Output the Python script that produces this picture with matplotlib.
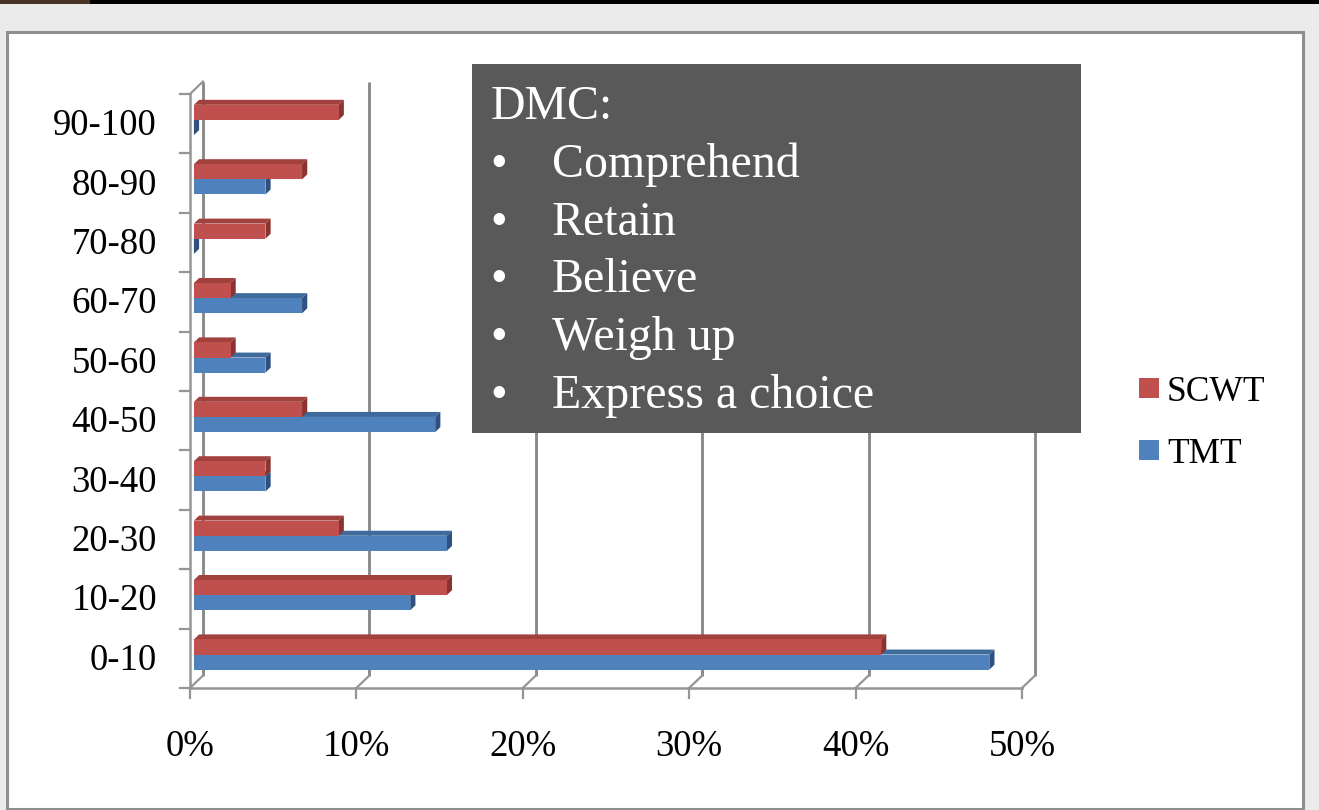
import matplotlib
matplotlib.use("Agg")
import matplotlib.pyplot as plt
from matplotlib.patches import Rectangle, Polygon
from matplotlib.transforms import offset_copy

# ---- data -------------------------------------------------------------
categories = ["0-10", "10-20", "20-30", "30-40", "40-50",
              "50-60", "60-70", "70-80", "80-90", "90-100"]
scwt = [41.3, 15.2, 8.7, 4.3, 6.5, 2.2, 2.2, 4.3, 6.5, 8.7]
tmt = [47.8, 13.0, 15.2, 4.3, 14.5, 4.3, 6.5, 0.0, 4.3, 0.0]
series_names = ["SCWT", "TMT"]
x_ticks = [0, 10, 20, 30, 40, 50]
x_tick_labels = ["0%", "10%", "20%", "30%", "40%", "50%"]
box_title = "DMC:"
box_items = ["Comprehend", "Retain", "Believe", "Weigh up", "Express a choice"]

# ---- style ------------------------------------------------------------
W, H = 1319, 810
SERIF = "Liberation Serif"
RED = {"front": "#C0504D", "top": "#A1403D", "side": "#8A3330"}
BLUE = {"front": "#4F81BD", "top": "#3F6A9C", "side": "#2E5180"}
GRID = "#8a8a8a"
AXIS = "#959595"


def fx(px):
    return px / W


def fy(py):
    return 1 - py / H


fig = plt.figure(figsize=(W / 100, H / 100), dpi=100)
fig.patch.set_facecolor("#ebebeb")

# window strip and white panel
fig.add_artist(Rectangle((0, fy(4)), 1, 4 / H, transform=fig.transFigure,
                         facecolor="#000000", edgecolor="none", zorder=-2))
fig.add_artist(Rectangle((0, fy(4)), 90 / W, 4 / H, transform=fig.transFigure,
                         facecolor="#4a3226", edgecolor="none", zorder=-2))
fig.add_artist(Rectangle((fx(7), fy(809)), (1303 - 7) / W, (809 - 32) / H,
                         transform=fig.transFigure, facecolor="white",
                         edgecolor="#8f8f8f", linewidth=2.2, zorder=-1))

# front plane of the 3-D plot area
x0p, x1p, y0p, y1p = 190, 1022, 94, 688
ax = fig.add_axes([fx(x0p), fy(y1p), (x1p - x0p) / W, (y1p - y0p) / H])
ax.set_zorder(2)
ax.set_xlim(0, 50)
ax.set_ylim(-0.5, 9.5)
ax.axis("off")

px_x = (x1p - x0p) / 50.0
px_y = (y1p - y0p) / 10.0
DX = 13.0 / px_x       # depth offset in data units
DY = 12.5 / px_y
F0, F1 = 0.30, 0.70    # front and back depth of the bars
BH = 0.255             # bar thickness per series

ymin, ymax = -0.5, 9.5

# back wall gridlines
for xv in x_ticks:
    ax.plot([xv + DX, xv + DX], [ymin + DY, ymax + DY], color=GRID,
            lw=2.1, solid_capstyle="butt", zorder=1, clip_on=False)
    # floor diagonals
    ax.plot([xv, xv + DX], [ymin, ymin + DY], color=AXIS, lw=1.6,
            zorder=1, clip_on=False)
    # tick marks below the floor
    ax.plot([xv, xv], [ymin, ymin - 10 / px_y], color=AXIS, lw=1.6,
            zorder=1, clip_on=False)

# front floor edge and left axis
ax.plot([0, 50], [ymin, ymin], color=AXIS, lw=1.8, zorder=1, clip_on=False)
ax.plot([0, 0], [ymin, ymax], color=AXIS, lw=1.8, zorder=1, clip_on=False)
ax.plot([0, DX], [ymax, ymax + DY], color=AXIS, lw=1.6, zorder=1, clip_on=False)
for j in range(len(categories) + 1):
    yb = ymin + j
    ax.plot([-10 / px_x, 0], [yb, yb], color=AXIS, lw=1.6, zorder=1,
            clip_on=False)


def bar3d(v, yb, yt, col, z):
    dx0, dy0 = F0 * DX, F0 * DY
    dx1, dy1 = F1 * DX, F1 * DY
    top = [(0 + dx0, yt + dy0), (v + dx0, yt + dy0),
           (v + dx1, yt + dy1), (0 + dx1, yt + dy1)]
    side = [(v + dx0, yb + dy0), (v + dx0, yt + dy0),
            (v + dx1, yt + dy1), (v + dx1, yb + dy1)]
    ax.add_patch(Polygon(top, closed=True, facecolor=col["top"],
                         edgecolor="none", zorder=z, clip_on=False))
    ax.add_patch(Polygon(side, closed=True, facecolor=col["side"],
                         edgecolor="none", zorder=z, clip_on=False))
    ax.add_patch(Rectangle((dx0, yb + dy0), v, yt - yb,
                           facecolor=col["front"], edgecolor="none",
                           zorder=z + 0.1, clip_on=False))


for i in range(len(categories)):
    bar3d(tmt[i], i - BH, i, BLUE, 3 + i * 0.01)
    bar3d(scwt[i], i, i + BH, RED, 3.5 + i * 0.01)

# category labels
ytf = offset_copy(ax.transData, fig=fig, x=-33, y=-11.5, units="dots")
for i, lab in enumerate(categories):
    ax.text(0, i, lab, transform=ytf, ha="right", va="baseline",
            fontsize=26.5, family=SERIF, color="black", clip_on=False)

# value-axis labels
xtf = offset_copy(ax.transData, fig=fig, x=0, y=-68, units="dots")
for xv, lab in zip(x_ticks, x_tick_labels):
    ax.text(xv, ymin, lab, transform=xtf, ha="center", va="baseline",
            fontsize=26.5, family=SERIF, color="black", clip_on=False)

# legend
for k, (name, col) in enumerate(zip(series_names, [RED, BLUE])):
    top = 378 + k * 62
    fig.add_artist(Rectangle((fx(1139), fy(top + 20)), 20 / W, 20 / H,
                             transform=fig.transFigure,
                             facecolor=col["front"], edgecolor="none",
                             zorder=4))
    fig.text(fx(1167), fy(top + 23), name, ha="left", va="baseline",
             fontsize=25.5, family=SERIF, color="black", zorder=4)

# annotation box
fig.add_artist(Rectangle((fx(472), fy(433)), (1081 - 472) / W, (433 - 64) / H,
                         transform=fig.transFigure, facecolor="#595959",
                         edgecolor="none", zorder=5))
fig.text(fx(491), fy(119), box_title, ha="left", va="baseline",
         fontsize=34.5, family=SERIF, color="white", zorder=6)
for k, item in enumerate(box_items):
    base = 177 + k * 57.7
    fig.text(fx(499), fy(base), "\u2022", ha="center", va="baseline",
             fontsize=34.5, family=SERIF, color="white", zorder=6)
    fig.text(fx(552), fy(base), item, ha="left", va="baseline",
             fontsize=34.5, family=SERIF, color="white", zorder=6)

fig.savefig("out.png", dpi=100, facecolor=fig.get_facecolor())
